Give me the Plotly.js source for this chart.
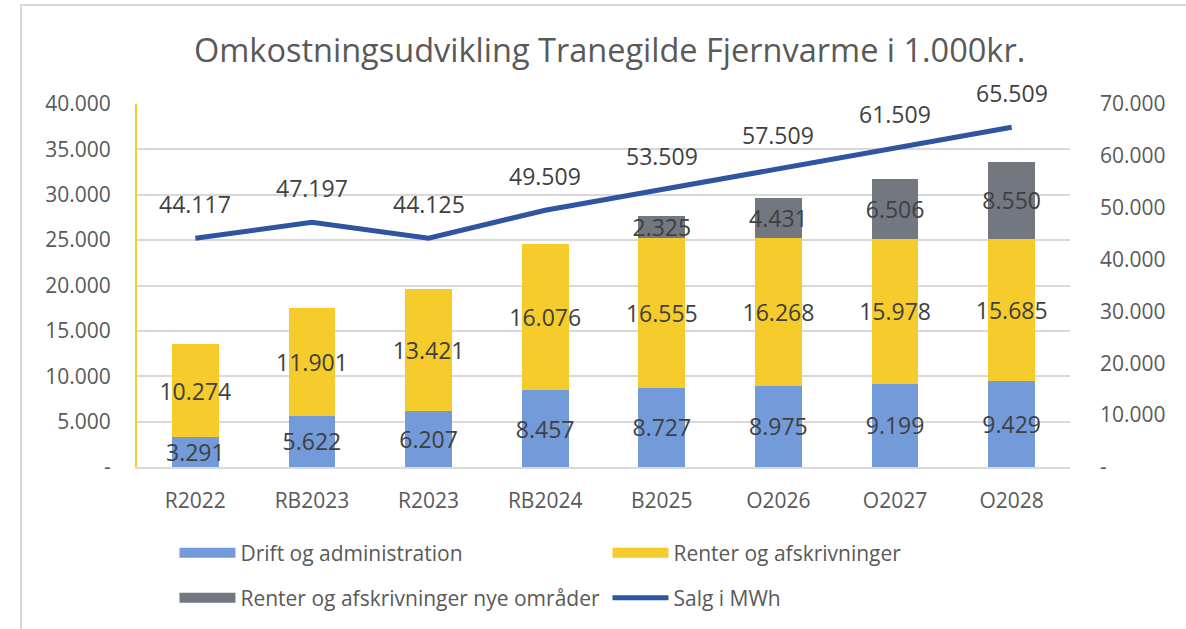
<!DOCTYPE html>
<html><head><meta charset="utf-8">
<script src="https://cdn.plot.ly/plotly-3.0.1.min.js"></script>
<style>html,body{margin:0;padding:0;background:#fff;}#c{width:1186px;height:629px;}</style>
</head><body><div id="c"></div>
<script>
const categories = ["R2022","RB2023","R2023","RB2024","B2025","O2026","O2027","O2028"];
const drift = [3291,5622,6207,8457,8727,8975,9199,9429];
const renter = [10274,11901,13421,16076,16555,16268,15978,15685];
const renterNye = [null,null,null,null,2325,4431,6506,8550];
const salg = [44117,47197,44125,49509,53509,57509,61509,65509];
const leftTicks = [0,5000,10000,15000,20000,25000,30000,35000,40000];
const leftTickText = ["-","5.000","10.000","15.000","20.000","25.000","30.000","35.000","40.000"];
const rightTicks = [0,10000,20000,30000,40000,50000,60000,70000];
const rightTickText = ["-","10.000","20.000","30.000","40.000","50.000","60.000","70.000"];
const names = ["Drift og administration","Renter og afskrivninger","Renter og afskrivninger nye områder","Salg i MWh"];
const colors = ["#739ad9","#f5cc2b","#737880","#2f54a0"];

const fmt = v => v==null ? "" : v.toLocaleString("de-DE");
const FONT = "'Open Sans', sans-serif";
const TXT = "#404040";
const AX = "#595959";

function barTrace(i, vals){
  return {type:"bar", name:names[i], x:categories, y:vals, marker:{color:colors[i]},
    width:0.4, text:vals.map(fmt), textposition:"inside", insidetextanchor:"middle",
    constraintext:"none", textangle:0, cliponaxis:false, showlegend:false,
    textfont:{family:FONT,size:23,color:TXT}, hoverinfo:"skip"};
}
function legendTrace(i, leg, w){
  return {type:"scatter", mode:"lines", name:names[i], x:[categories[0]], y:[null], legend:leg,
    line:{color:colors[i], width:w}, hoverinfo:"skip"};
}
const traces = [
  barTrace(0, drift),
  barTrace(1, renter),
  barTrace(2, renterNye),
  {type:"scatter", mode:"lines", name:names[3], x:categories, y:salg, yaxis:"y2",
   line:{color:colors[3], width:5}, showlegend:false, cliponaxis:false},
  legendTrace(0,"legend",10),
  legendTrace(1,"legend2",10),
  legendTrace(2,"legend3",10),
  legendTrace(3,"legend4",5)
];
const annotations = salg.map((v,i)=>({x:categories[i], y:v, xref:"x", yref:"y2", text:fmt(v),
  showarrow:false, yshift:34, font:{family:FONT,size:23,color:TXT}}));
function leg(x,y){ return {orientation:"h", xref:"container", yref:"container", x:x, y:y,
    xanchor:"left", yanchor:"middle", font:{family:FONT,size:21,color:AX}, itemwidth:56,
    bgcolor:"rgba(0,0,0,0)"}; }
const layout = {
  width:1186, height:629, barmode:"stack",
  margin:{l:137, r:116, t:104, b:162, autoexpand:false},
  paper_bgcolor:"#fff", plot_bgcolor:"#fff",
  font:{family:FONT, color:AX},
  title:{text:"Omkostningsudvikling Tranegilde Fjernvarme i 1.000kr.", font:{family:FONT,size:32.5,color:AX},
    x:0.514, xref:"container", xanchor:"center", y:0.92, yref:"container", yanchor:"middle"},
  xaxis:{tickfont:{family:FONT,size:21,color:AX}, showline:true, linecolor:"#d9d9d9", linewidth:2, ticks:"", ticklabelstandoff:14},
  yaxis:{range:[0,40000], tickvals:leftTicks, ticktext:leftTickText, tickfont:{family:FONT,size:21,color:AX},
    showgrid:true, gridcolor:"#d9d9d9", gridwidth:2, zeroline:false, showline:true, linecolor:"#f5cc2b", linewidth:2,
    ticks:"", ticklabelstandoff:20},
  yaxis2:{range:[0,70000], overlaying:"y", side:"right", tickvals:rightTicks, ticktext:rightTickText,
    tickfont:{family:FONT,size:21,color:AX}, showgrid:false, zeroline:false, ticks:"", ticklabelstandoff:29},
  legend:leg(0.1471,0.1208),
  legend2:leg(0.5122,0.1208),
  legend3:leg(0.1471,0.0493),
  legend4:leg(0.5122,0.0493),
  annotations:annotations,
  shapes:[{type:"rect", xref:"paper", yref:"paper", x0:-0.1243, x1:1.3, y0:-0.6, y1:1.2727,
    line:{color:"#d9d9d9", width:2}, fillcolor:"rgba(0,0,0,0)", layer:"below"}]
};
Plotly.newPlot("c", traces, layout, {displayModeBar:false, staticPlot:true});
</script></body></html>
